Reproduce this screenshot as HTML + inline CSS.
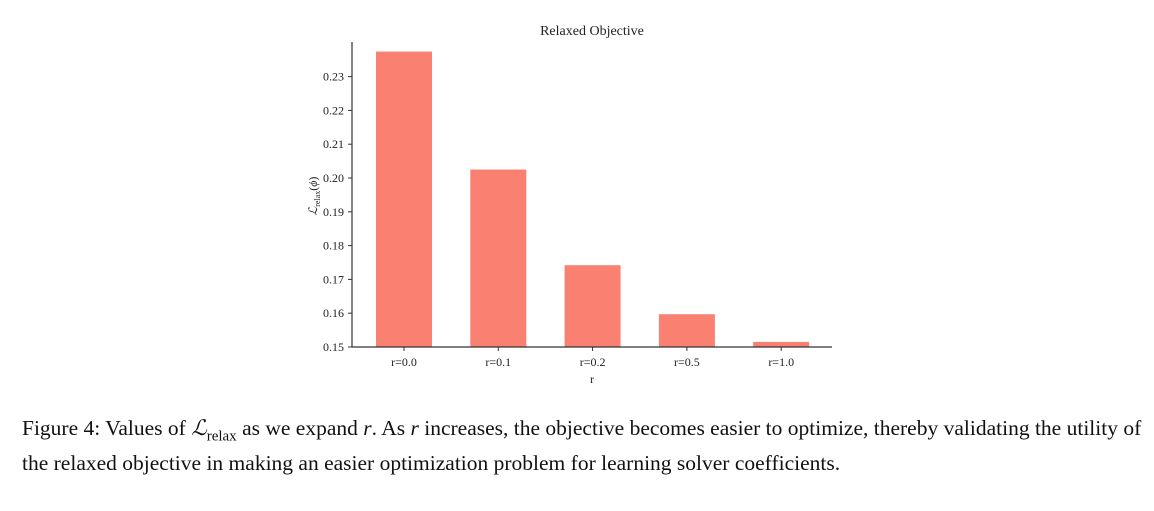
<!DOCTYPE html>
<html><head><meta charset="utf-8"><style>
body{margin:0;background:#fff;width:1154px;height:511px;overflow:hidden;font-family:"Liberation Serif",serif}
#cap{position:absolute;left:22px;top:415px;width:1120px;font-size:21.5px;line-height:27px;color:#111}
</style></head><body>
<svg id="chart" width="1154" height="400" style="position:absolute;left:0;top:0" font-family="Liberation Serif, serif"></svg>
<div id="cap">Figure 4: Values of <i>ℒ</i><sub style="font-size:15px">relax</sub> as we expand <i>r</i>. As <i>r</i> increases, the objective becomes easier to optimize, thereby validating the utility of the relaxed objective in making an easier optimization problem for learning solver coefficients.</div>
<script>
const categories=["r=0.0","r=0.1","r=0.2","r=0.5","r=1.0"];
const values=[0.2374,0.2025,0.1742,0.1597,0.1515];
const yTicks=[0.15,0.16,0.17,0.18,0.19,0.20,0.21,0.22,0.23];
const yTickLabels=["0.15","0.16","0.17","0.18","0.19","0.20","0.21","0.22","0.23"];
const NS="http://www.w3.org/2000/svg";
const svg=document.getElementById('chart');
const x0=352,x1=832,yb=347,yMin=0.15,pxPer=3380;
const y=v=>yb-(v-yMin)*pxPer;
const step=94.3,first=404,bw=56;
const xc=i=>first+i*step;
function mk(t,a){const e=document.createElementNS(NS,t);for(const k in a)e.setAttribute(k,a[k]);svg.appendChild(e);return e;}
values.forEach((v,i)=>{
 const r=mk('rect',{x:xc(i)-bw/2,y:y(v),width:bw,height:yb-y(v),fill:'#fa8072'});
 
 
 const t=mk('line',{x1:xc(i),x2:xc(i),y1:yb,y2:yb+4,stroke:'#333'});
 
 
 const l=mk('text',{x:xc(i),y:yb+19,'text-anchor':'middle','font-size':12,fill:'#222'});
 l.textContent=categories[i];
 
 
});
yTicks.forEach((v,i)=>{
 const t=mk('line',{x1:x0-4,x2:x0,y1:y(v),y2:y(v),stroke:'#333'});
 
 
 const l=mk('text',{x:x0-8,y:y(v)+4,'text-anchor':'end','font-size':12,fill:'#222'});
 l.textContent=yTickLabels[i];
 
 
});
const ax=mk('line',{x1:x0,x2:x0,y1:42,y2:yb,stroke:'#333','stroke-width':1.2});


const bx=mk('line',{x1:x0,x2:x1,y1:yb,y2:yb,stroke:'#333','stroke-width':1.2});


const ti=mk('text',{x:592,y:35,'text-anchor':'middle','font-size':14,fill:'#222'});
ti.textContent='Relaxed Objective';


const xt=mk('text',{x:592,y:383,'text-anchor':'middle','font-size':12,fill:'#222'});
xt.textContent='r';


const yt=mk('text',{x:0,y:0,'text-anchor':'middle','font-size':12,fill:'#222',transform:'translate(317,196) rotate(-90)'});
yt.innerHTML='<tspan font-style="italic">ℒ</tspan><tspan font-size="8" dy="3">relax</tspan><tspan dy="-3">(</tspan><tspan font-style="italic">ϕ</tspan><tspan>)</tspan>';


</script>
</body></html>
